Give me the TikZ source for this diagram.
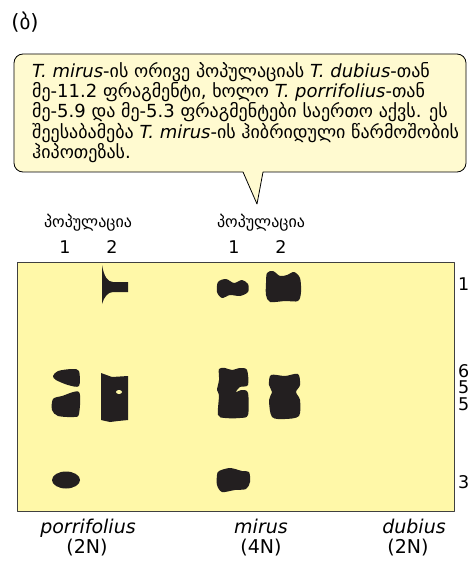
\documentclass[tikz,border=0pt]{standalone}
\usepackage{fontspec}
\setmainfont{DejaVu Sans}
\definecolor{gelfill}{HTML}{FFF8A8}
\definecolor{notefill}{HTML}{FFFAD0}
\definecolor{bandfill}{HTML}{231F20}

\begin{document}
\begin{tikzpicture}[x=1pt,y=-1pt,line join=round,line cap=round,
  font=\fontsize{18}{18.3}\selectfont,
  band/.style={fill=bandfill},
  lbl/.style={inner sep=0pt},
  pop/.style={inner sep=0pt,font=\fontsize{16}{18}\selectfont},
  lane/.style={inner sep=0pt,anchor=base,font=\fontsize{17.5}{20}\selectfont},
  species/.style={inner sep=0pt,anchor=base,font=\fontsize{19}{22}\selectfont},
  sizelbl/.style={inner sep=0pt,anchor=base west,font=\fontsize{17.5}{20}\selectfont}]
\useasboundingbox (0,0) rectangle (468,569);
\node[lbl,font=\fontsize{21}{24}\selectfont] (part) at (25,22) {(ბ)};
% speech bubble
\coordinate (tip) at (257,204);
\draw[fill=notefill,line width=0.8pt] (tip) -- (243,172) [rounded corners=9pt] -- (14,172) -- (14,54)
  -- (466,54) -- (466,172) [sharp corners] -- (263,172) -- cycle;
\node[lbl,anchor=north west,align=left] (note) at (32,62) {%
\textit{T. mirus}-ის ორივე პოპულაციას \textit{T. dubius}-თან\\
მე-11.2 ფრაგმენტი, ხოლო \textit{T. porrifolius}-თან\\
მე-5.9 და მე-5.3 ფრაგმენტები საერთო აქვს. ეს\\
შეესაბამება \textit{T. mirus}-ის ჰიბრიდული წარმოშობის\\
ჰიპოთეზას.};
% gel
\node[draw=black!75,fill=gelfill,line width=0.8pt,inner sep=0pt,anchor=north west,
  minimum width=437pt,minimum height=249pt] (gel) at (17,262) {};
\path (88,223) node[pop] (popA) {პოპულაცია}
      (261,223) node[pop] (popB) {პოპულაცია}
      (65,253) node[lane] (pA1) {1} (112,253) node[lane] (pA2) {2}
      (234,253) node[lane] (pB1) {1} (281,253) node[lane] (pB2) {2};
% bands, top row
\fill[band] (102,265) .. controls (104,277) and (108,282) .. (113,282) -- (128,282) -- (128,292)
  -- (113,292) .. controls (108,292) and (104,297) .. (102,304) -- cycle;
\fill[band] plot[smooth cycle] coordinates {(218,282) (226,279) (234,283) (242,280) (248,284)
  (248,292) (240,296) (230,295) (222,298) (217,292)};
\fill[band] plot[smooth cycle] coordinates {(267,273) (273,271) (280,276) (287,275) (294,272)
  (300,278) (301,292) (298,301) (285,301) (270,302) (266,295) (266,283)};
% middle row
\fill[band] plot[smooth cycle] coordinates {(72,369) (79,371) (79,386) (68,385) (56,380) (53,376) (58,371)};
\fill[band] plot[smooth cycle] coordinates {(79,392) (79,414) (74,417) (58,416) (52,410) (53,399) (62,396)};
\fill[band] (101,373) -- (112,377) -- (128,376) -- (128,420) -- (118,421) -- (110,422) -- (101,420) -- cycle;
\fill[gelfill] (119,392) ellipse (3 and 2);
\fill[band] plot[smooth cycle] coordinates {(219,369) (225,368) (232,370) (240,368) (247,370)
  (248,385) (240,387) (236,392) (242,390) (248,393) (248,415) (240,418) (225,418) (218,415)
  (219,395) (217,390) (219,380)};
\fill[band] plot[smooth cycle] coordinates {(271,375) (285,376) (298,374) (300,385) (296,392)
  (300,400) (299,416) (285,419) (272,417) (269,400) (272,392) (269,385)};
% bottom row
\fill[band] (66,480) ellipse (14 and 8.5);
\fill[band] plot[smooth cycle] coordinates {(219,471) (230,468) (242,471) (249,472) (250,482)
  (246,489) (235,490) (222,492) (217,485) (217,475)};
% fragment sizes
\path (458,290) node[sizelbl] (s1) {1}
      (458,377) node[sizelbl] (s2) {6}
      (458,393) node[sizelbl] (s3) {5}
      (458,410) node[sizelbl] (s4) {5}
      (458,488) node[sizelbl] (s5) {3};
% species
\path (88,533) node[species] (porr) {\textit{porrifolius}} (87,553) node[species] (porrN) {(2N)}
      (261,533) node[species] (mir) {\textit{mirus}} (261,553) node[species] (mirN) {(4N)}
      (414,533) node[species] (dub) {\textit{dubius}} (408,553) node[species] (dubN) {(2N)};
\end{tikzpicture}
\end{document}
